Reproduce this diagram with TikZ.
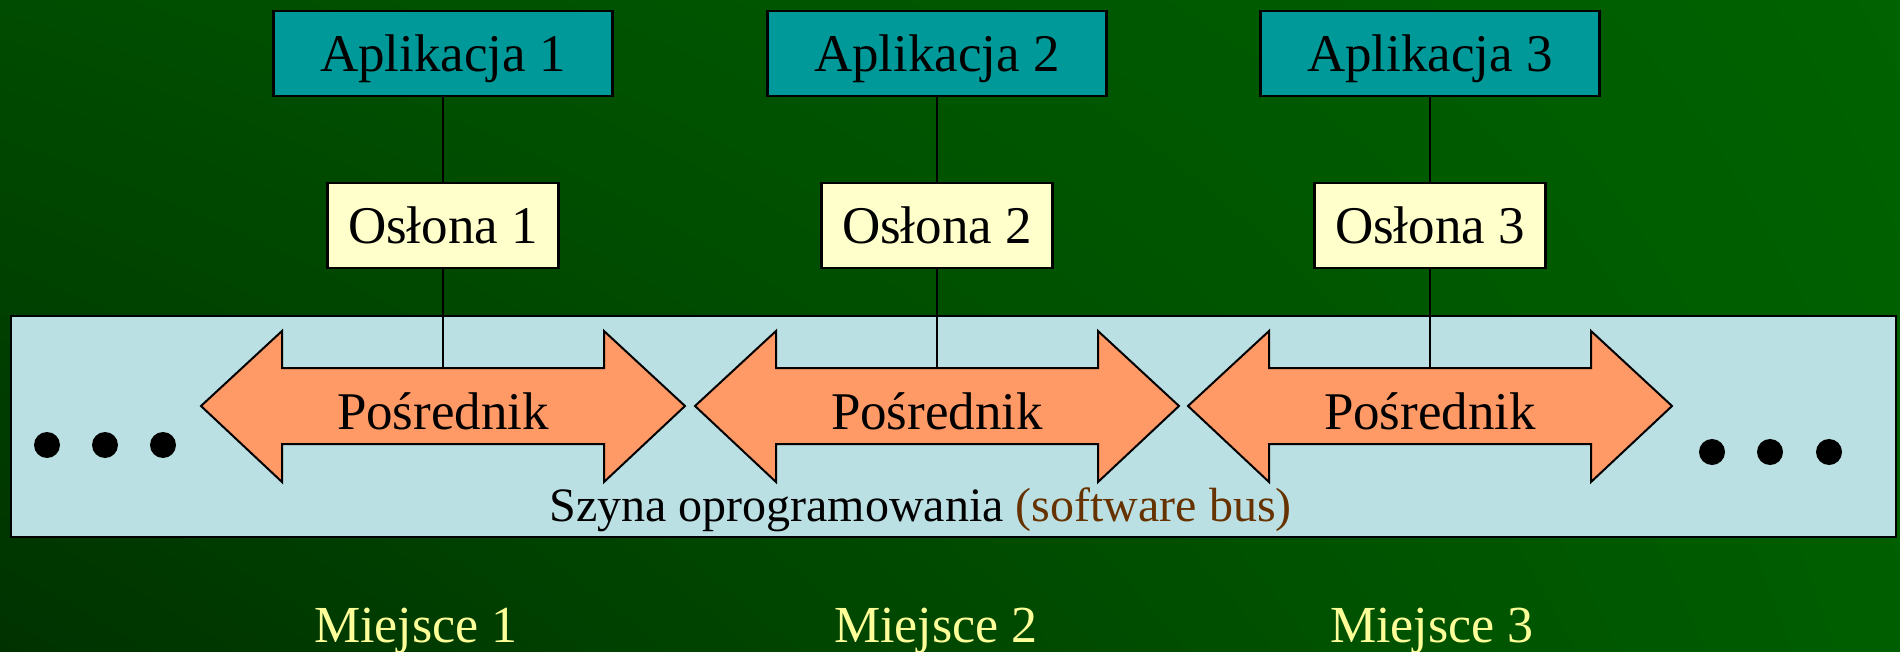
\documentclass[tikz,border=0pt]{standalone}
\usepackage{fontspec}
\setmainfont{Liberation Serif}
\usetikzlibrary{shadings}

\definecolor{appfill}{HTML}{009999}
\definecolor{wrapfill}{HTML}{FFFFCC}
\definecolor{busfill}{HTML}{BBE0E3}
\definecolor{brokerfill}{HTML}{FF9966}
\definecolor{sitetext}{HTML}{FFFF99}
\definecolor{bustag}{HTML}{663300}
\definecolor{bgLL}{HTML}{003200}
\definecolor{bgUL}{HTML}{004C00}
\definecolor{bgLR}{HTML}{005E00}
\definecolor{bgUR}{HTML}{006200}

\tikzset{
  bigfont/.style={font=\fontsize{26.5}{31}\selectfont},
  appbox/.style={draw=black, line width=1.2pt, fill=appfill, bigfont,
    minimum width=169.5pt, minimum height=42.5pt, inner sep=0pt,
    text height=17.6pt, text depth=0pt},
  wrapbox/.style={draw=black, line width=1.2pt, fill=wrapfill, bigfont,
    minimum width=115.5pt, minimum height=42.5pt, inner sep=0pt,
    text height=17.6pt, text depth=0pt},
  busbox/.style={draw=black, line width=1.2pt, fill=busfill},
  brokerarrow/.style={draw=black, line width=1pt, fill=brokerfill, line join=miter},
  brokerlabel/.style={bigfont, anchor=base, inner sep=0pt},
  sitelabel/.style={font=\fontsize{26}{30}\selectfont, text=sitetext, anchor=base, inner sep=0pt},
  buslabel/.style={font=\fontsize{24}{28}\selectfont, anchor=base west, inner sep=0pt},
  link/.style={draw=black, line width=1pt},
  ellipsisdot/.style={fill=black},
}

\begin{document}
\begin{tikzpicture}[x=0.5pt, y=-0.5pt]
  \useasboundingbox (0,0) rectangle (1900,652);

  % background
  \shade[lower left=bgLL, upper left=bgUL, lower right=bgLR, upper right=bgUR]
    (0,0) rectangle (1900,652);

  % software bus
  \draw[busbox] (11,316) rectangle (1896,537);

  % ellipsis dots on both ends of the bus
  \foreach \x in {47,105,163} \fill[ellipsisdot] (\x,445) circle[radius=6.5pt];
  \foreach \x in {1712,1770,1829} \fill[ellipsisdot] (\x,452) circle[radius=6.5pt];

  % applications, wrappers and brokers
  \foreach \i/\x in {1/443,2/937,3/1430} {
    \draw[brokerarrow]
      ({\x-242},406) -- ({\x-161},331) -- ({\x-161},368) -- ({\x+161},368)
      -- ({\x+161},331) -- ({\x+242},406) -- ({\x+161},482) -- ({\x+161},444)
      -- ({\x-161},444) -- ({\x-161},482) -- cycle;
    \node[brokerlabel] (p\i) at (\x,429) {Pośrednik};
    \coordinate (s\i) at (\x,368);
    \node[appbox] (a\i) at (\x,53.5) {Aplikacja \i};
    \node[wrapbox] (o\i) at (\x,225.5) {Osłona \i};
    \draw[link] (a\i.south) -- (o\i.north);
    \draw[link] (o\i.south) -- (s\i);
  }

  % bus caption
  \node[buslabel] (bus) at (549,521)
    {Szyna oprogramowania \textcolor{bustag}{(software bus)}};

  % site labels
  \node[sitelabel] (m1) at (416,642) {Miejsce 1};
  \node[sitelabel] (m2) at (936,642) {Miejsce 2};
  \node[sitelabel] (m3) at (1432,642) {Miejsce 3};
\end{tikzpicture}
\end{document}
